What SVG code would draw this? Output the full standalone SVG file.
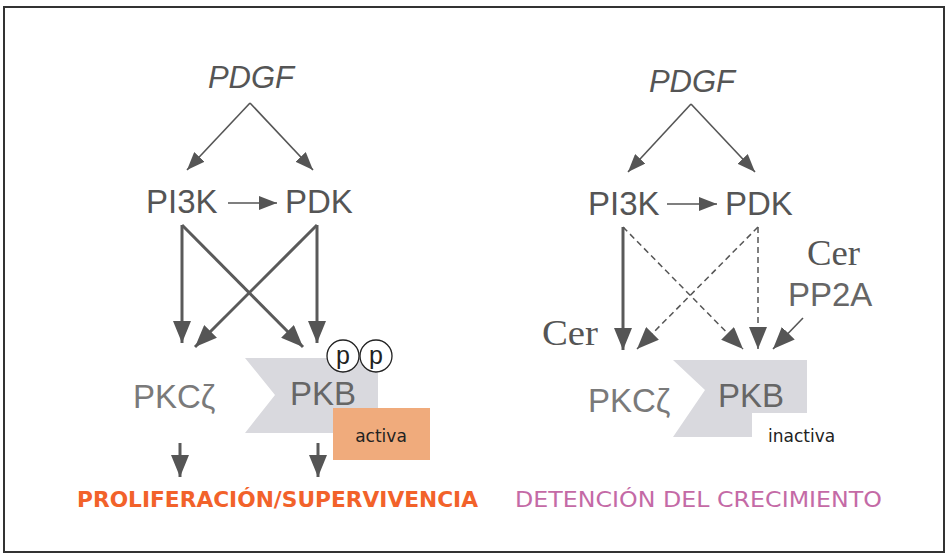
<svg xmlns="http://www.w3.org/2000/svg" width="949" height="555" viewBox="0 0 949 555">
<style>
.sans{font-family:"Liberation Sans",Arial,sans-serif;}
.node{font-family:"Liberation Sans",Arial,sans-serif;font-size:33px;fill:#555;}
.pk{font-family:"Liberation Sans",Arial,sans-serif;font-size:33px;fill:#7a7a7a;}
.pkb{font-family:"Liberation Sans",Arial,sans-serif;font-size:33px;fill:#666;}
.pdgf{font-family:"Liberation Sans",Arial,sans-serif;font-size:31px;font-style:italic;fill:#555;}
.cer{font-family:"Liberation Serif","Times New Roman",serif;font-size:36px;fill:#555;}
.thin{stroke:#555;stroke-width:1.6;fill:none;}
.thick{stroke:#5a5a5a;stroke-width:3;fill:none;}
.dash{stroke:#555;stroke-width:1.5;fill:none;stroke-dasharray:6 4;}
.shape{fill:#d9d9de;}
.comic{font-family:"DejaVu Sans",Verdana,sans-serif;}
</style>
<defs>
<marker id="big" markerUnits="userSpaceOnUse" markerWidth="22" markerHeight="18" refX="22" refY="9" orient="auto">
<path d="M0,0 L22,9 L0,18 z" fill="#555"/>
</marker>
<marker id="small" markerUnits="userSpaceOnUse" markerWidth="18" markerHeight="14" refX="18" refY="7" orient="auto">
<path d="M0,0 L18,7 L0,14 z" fill="#555"/>
</marker>
</defs>
<rect x="0" y="0" width="949" height="555" fill="#fff"/>
<rect x="4" y="7" width="940" height="545" fill="none" stroke="#333" stroke-width="2"/>

<g id="connectors">
<path class="thin" d="M250,103 L187,170" marker-end="url(#small)"/>
<path class="thin" d="M250,103 L313,170" marker-end="url(#small)"/>
<path class="thin" d="M228,203 L277,203" marker-end="url(#small)"/>
<path class="thick" d="M182,225 L182,343" marker-end="url(#big)"/>
<path class="thick" d="M182,225 L303,347" marker-end="url(#big)"/>
<path class="thick" d="M317,225 L317,343" marker-end="url(#big)"/>
<path class="thick" d="M317,225 L195,347" marker-end="url(#big)"/>
<path class="thick" d="M180,443 L180,477" marker-end="url(#big)"/>
<path class="thick" d="M318,443 L318,477" marker-end="url(#big)"/>
<path class="thin" d="M691,104 L628,172" marker-end="url(#small)"/>
<path class="thin" d="M691,104 L755,172" marker-end="url(#small)"/>
<path class="thin" d="M667,204 L717,204" marker-end="url(#small)"/>
<path class="thick" d="M623,227 L623,350" marker-end="url(#big)"/>
<path class="dash" d="M623,227 L743,349" marker-end="url(#big)"/>
<path class="dash" d="M758,227 L637,349" marker-end="url(#big)"/>
<path class="dash" d="M758,227 L758,349" marker-end="url(#big)"/>
<path class="thin" d="M803,318 L773,349" marker-end="url(#big)"/>
</g>

<g id="pdgf-left"><text class="pdgf" x="251" y="88" text-anchor="middle">PDGF</text></g>
<g id="pi3k-left"><text class="node" x="146" y="213">PI3K</text></g>
<g id="pdk-left"><text class="node" x="285" y="213">PDK</text></g>
<g id="pkcz-left"><text class="pk" x="133" y="408">PKCζ</text></g>
<g id="pkb-left">
<polygon class="shape" points="245,358 378,358 378,433 245,433 275,395"/>
<text class="pkb" x="290" y="405">PKB</text>
<circle cx="343" cy="356" r="16" fill="#fff" stroke="#222" stroke-width="1.3"/>
<circle cx="376" cy="356" r="16" fill="#fff" stroke="#222" stroke-width="1.3"/>
<text class="sans" x="343" y="364" font-size="25" text-anchor="middle" fill="#222">p</text>
<text class="sans" x="376" y="364" font-size="25" text-anchor="middle" fill="#222">p</text>
</g>
<g id="activa">
<rect x="333" y="408" width="97" height="52" fill="#f0ab7c"/>
<text class="comic" x="381" y="442" font-size="17" text-anchor="middle" fill="#222">activa</text>
</g>
<g id="label-left"><text class="comic" x="77" y="507" font-size="22" font-weight="bold" fill="#f2622a" textLength="401" lengthAdjust="spacingAndGlyphs">PROLIFERACIÓN/SUPERVIVENCIA</text></g>

<g id="pdgf-right"><text class="pdgf" x="692" y="92" text-anchor="middle">PDGF</text></g>
<g id="pi3k-right"><text class="node" x="588" y="215">PI3K</text></g>
<g id="pdk-right"><text class="node" x="725" y="215">PDK</text></g>
<g id="cer-left"><text class="cer" x="542" y="345" textLength="56" lengthAdjust="spacingAndGlyphs">Cer</text></g>
<g id="cer-pp2a">
<text class="cer" x="807" y="265" textLength="53" lengthAdjust="spacingAndGlyphs">Cer</text>
<text class="pkb" x="788" y="306">PP2A</text>
</g>
<g id="pkcz-right"><text class="pk" x="588" y="412">PKCζ</text></g>
<g id="pkb-right">
<polygon class="shape" points="673,360 807,360 807,413 752,413 752,437 673,437 705,390"/>
<text class="pkb" x="718" y="407">PKB</text>
</g>
<g id="inactiva"><text class="comic" x="768" y="442" font-size="17" fill="#222">inactiva</text></g>
<g id="label-right"><text class="comic" x="515" y="507" font-size="22" fill="#c46aa6" textLength="367" lengthAdjust="spacingAndGlyphs">DETENCIÓN DEL CRECIMIENTO</text></g>
</svg>
